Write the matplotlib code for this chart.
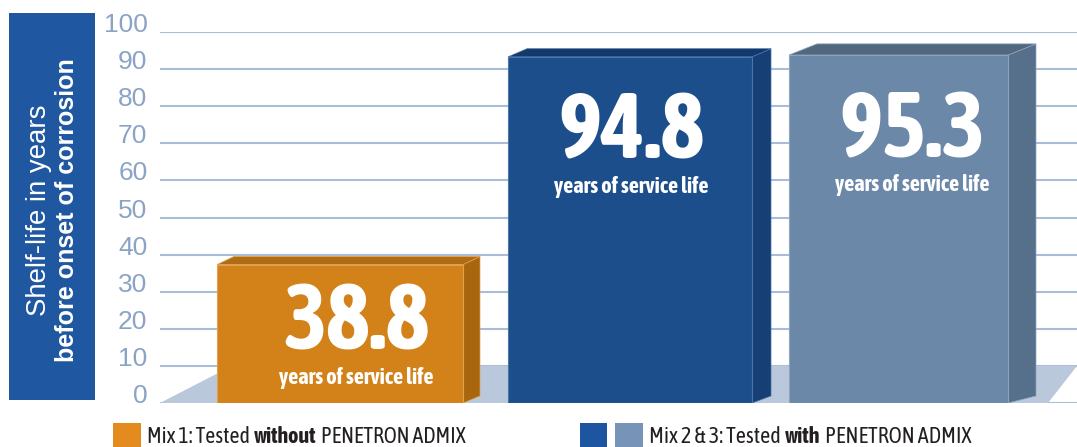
import matplotlib
matplotlib.use("Agg")
import matplotlib.pyplot as plt
from matplotlib import font_manager
from matplotlib.patches import Polygon, Rectangle

# fonts: a condensed face if there is one (need a bold cut for the numbers)
ttf = font_manager.fontManager.ttflist
names = {f.name for f in ttf}
REGULAR = 'Liberation Sans' if 'Liberation Sans' in names else 'DejaVu Sans'


def heavy(f):
    w = f.weight
    if isinstance(w, str):
        return w.lower() in ('bold', 'heavy', 'black', 'semibold', 'demibold',
                             'extra bold', 'ultrabold', 'demi bold')
    return w >= 600


narrow = sorted({f.name for f in ttf if 'Condensed' in f.name or 'Narrow' in f.name})
narrow_bold = [n for n in narrow if any(f.name == n and heavy(f) for f in ttf)]
narrow_kw = {'family': narrow[0]} if narrow else {'family': REGULAR}
if narrow_bold:
    bold_kw = {'family': narrow_bold[0]}
    narrow_kw = {'family': narrow_bold[0]}
elif any(f.name == 'DejaVu Sans' and str(f.stretch) == 'condensed' and heavy(f) for f in ttf):
    bold_kw = {'family': 'DejaVu Sans', 'fontstretch': 'condensed'}
else:
    bold_kw = {'family': REGULAR}

# data
mixes = ['Mix 1', 'Mix 2', 'Mix 3']
service_life = [38.8, 94.8, 95.3]
value_labels = ['38.8', '94.8', '95.3']
caption = 'years of service life'
y_ticks = [0, 10, 20, 30, 40, 50, 60, 70, 80, 90, 100]
axis_title = ['Shelf-life in years', 'before onset of corrosion']
legend_1 = ['Mix 1: Tested', 'without', 'PENETRON ADMIX']
legend_2 = ['Mix 2 & 3: Tested', 'with', 'PENETRON ADMIX']

# layout / style
bar_left = [57, 348, 629]
bar_width = [246, 244, 219]
depth_x = [17, 19, 28]
depth_y = [2.2, 2.2, 3.0]
label_shift = [8, -8, 0]
front_col = ['#d38219', '#1c4e8c', '#6b88a8']
side_col = ['#a8660f', '#153f75', '#566f8b']
top_col = ['#b06c12', '#12396b', '#51687f']
edge_col = ['#e2a050', '#4a74aa', '#8ea4bf']

W, H = 1077, 447
fig = plt.figure(figsize=(W / 100, H / 100), dpi=100)
renderer = fig.canvas.get_renderer()


def fit(t, target, max_size, along='width'):
    # shrink/grow font so the text spans about `target` pixels
    bb = t.get_window_extent(renderer)
    w = bb.width if along == 'width' else bb.height
    t.set_fontsize(min(t.get_fontsize() * target / w, max_size))


ax = fig.add_axes([160 / W, 44 / H, 917 / W, 371 / H])
ax.set_xlim(0, 917)
ax.set_ylim(0, 100)

# grid
ax.set_axisbelow(True)
ax.set_yticks(y_ticks)
ax.yaxis.grid(True, color='#a9bdd8', linewidth=1.5)
ax.set_xticks([])
for s in ax.spines.values():
    s.set_visible(False)
ax.tick_params(axis='y', length=0, pad=9, labelsize=19, labelcolor='#8ba4c6')
for lab in ax.get_yticklabels():
    lab.set_fontfamily(REGULAR)
    lab.set_va('baseline')

# floor
ax.add_patch(Polygon([(0, 0), (72, 10), (917, 10), (888, 0)], closed=True,
                     facecolor='#b9c8db', edgecolor='none', zorder=1))

# bars (front faces)
front_h = [v - 1.5 for v in service_life]
ax.bar(bar_left, front_h, width=bar_width, align='edge', color=front_col,
       edgecolor=edge_col, linewidth=0.8, zorder=3)

for i, v in enumerate(service_life):
    l = bar_left[i]
    r = l + bar_width[i]
    ft = front_h[i]
    dx, dy = depth_x[i], depth_y[i]
    ax.add_patch(Polygon([(r, 0), (r, ft), (r + dx, ft + dy), (r + dx, 1.9)],
                         closed=True, facecolor=side_col[i], edgecolor=edge_col[i],
                         linewidth=0.5, zorder=2.9))
    ax.add_patch(Polygon([(l, ft), (l + dx, ft + dy), (r + dx, ft + dy), (r, ft)],
                         closed=True, facecolor=top_col[i], edgecolor=edge_col[i],
                         linewidth=0.5, zorder=2.9))
    cx = l + (bar_width[i] + dx) / 2 + label_shift[i]
    num = ax.text(cx, v - min(29, 0.63 * v), value_labels[i], ha='center', va='baseline',
                  fontsize=64, fontweight='bold', color='white', zorder=5, **bold_kw)
    fit(num, 146, 68)
    cap = ax.text(cx, v - min(38.1, 0.867 * v), caption, ha='center', va='baseline',
                  fontsize=16, fontweight='bold', color='white', zorder=5, **bold_kw)
    fit(cap, 170, 16)

# left title box
fig.patches.append(Rectangle((9 / W, 47 / H), 86 / W, 387 / H, transform=fig.transFigure,
                             facecolor='#1f58a0', edgecolor='none'))
t1 = fig.text(39 / W, 1 - 210 / H, axis_title[0], rotation=90, ha='center', va='center',
              fontsize=20, color='white', family=REGULAR)
fit(t1, 212, 20, along='height')
t2 = fig.text(67 / W, 1 - 210 / H, axis_title[1], rotation=90, ha='center', va='center',
              fontsize=18, fontweight='bold', color='white', family=REGULAR)
fit(t2, 304, 19, along='height')


# legend
def legend_line(x, parts, target):
    a = fig.text(x / W, 4 / H, parts[0], fontsize=15, color='#231f20',
                 va='baseline', ha='left', **narrow_kw)
    b = ax.annotate(parts[1], xy=(1, 0), xycoords=a, xytext=(3, 0),
                    textcoords='offset points', va='bottom', ha='left',
                    fontsize=15, fontweight='bold', color='#231f20', **bold_kw)
    c = ax.annotate(parts[2], xy=(1, 0), xycoords=b, xytext=(3, 0),
                    textcoords='offset points', va='bottom', ha='left',
                    fontsize=15, color='#231f20', **narrow_kw)
    span = c.get_window_extent(renderer).x1 - a.get_window_extent(renderer).x0
    size = min(15 * target / span, 16)
    for t in (a, b, c):
        t.set_fontsize(size)


fig.patches.append(Rectangle((113 / W, -5 / H), 28 / W, 29 / H, transform=fig.transFigure,
                             facecolor='#e38b1f', edgecolor='none'))
legend_line(147, legend_1, 322)
fig.patches.append(Rectangle((580 / W, -5 / H), 27 / W, 29 / H, transform=fig.transFigure,
                             facecolor='#1d55a0', edgecolor='none'))
fig.patches.append(Rectangle((615 / W, -5 / H), 28 / W, 29 / H, transform=fig.transFigure,
                             facecolor='#7893b8', edgecolor='none'))
legend_line(649, legend_2, 325)

fig.savefig('out.png', dpi=100)
